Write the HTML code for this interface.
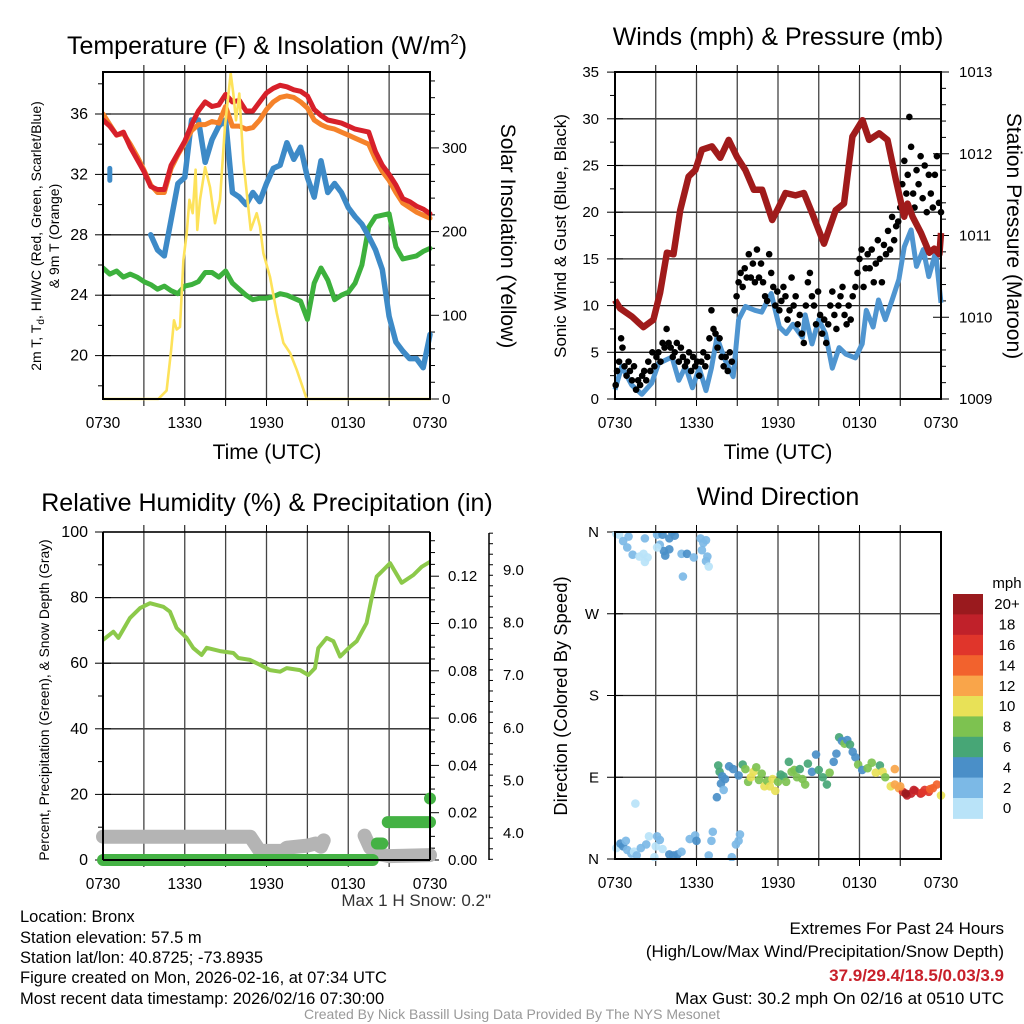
<!DOCTYPE html>
<html><head><meta charset="utf-8"><title>Bronx Mesonet Meteogram</title>
<style>
html,body{margin:0;padding:0;background:#fff;}
svg{display:block;font-family:"Liberation Sans",Arial,sans-serif;}
</style></head>
<body>
<svg id="chart" width="1024" height="1024" viewBox="0 0 1024 1024" xmlns="http://www.w3.org/2000/svg">
<rect width="1024" height="1024" fill="#fff"/>
<g id="g1"></g>
<g id="g2"></g>
<g id="g3"></g>
<g id="g4"></g>

<text x="267" y="54" font-size="25" text-anchor="middle">Temperature (F) &amp; Insolation (W/m<tspan dy="-10" font-size="15">2</tspan><tspan dy="10">)</tspan></text>
<text x="778" y="45" font-size="25" text-anchor="middle">Winds (mph) &amp; Pressure (mb)</text>
<text x="267" y="511" font-size="25" text-anchor="middle">Relative Humidity (%) &amp; Precipitation (in)</text>
<text x="778" y="505" font-size="25" text-anchor="middle">Wind Direction</text>

<text x="267" y="459" font-size="21" text-anchor="middle">Time (UTC)</text>
<text x="778" y="459" font-size="21" text-anchor="middle">Time (UTC)</text>

<text transform="translate(41,236) rotate(-90)" font-size="14" text-anchor="middle">2m T, T<tspan dy="3" font-size="10">d</tspan><tspan dy="-3">, HI/WC (Red, Green, Scarlet/Blue)</tspan></text>
<text transform="translate(59,236) rotate(-90)" font-size="14" text-anchor="middle">&amp; 9m T (Orange)</text>
<text transform="translate(501,236) rotate(90)" font-size="21" text-anchor="middle">Solar Insolation (Yellow)</text>
<text transform="translate(566,236) rotate(-90)" font-size="17" text-anchor="middle">Sonic Wind &amp; Gust (Blue, Black)</text>
<text transform="translate(1007,236) rotate(90)" font-size="21" text-anchor="middle">Station Pressure (Maroon)</text>
<text transform="translate(49,700) rotate(-90)" font-size="13.8" text-anchor="middle">Percent, Precipitation (Green), &amp; Snow Depth (Gray)</text>
<text transform="translate(567,696) rotate(-90)" font-size="18.4" text-anchor="middle">Direction (Colored By Speed)</text>

<text x="491" y="906" font-size="17" text-anchor="end" fill="#333">Max 1 H Snow: 0.2"</text>
<g font-size="16.5">
<text x="20" y="922">Location: Bronx</text>
<text x="20" y="943">Station elevation: 57.5 m</text>
<text x="20" y="963">Station lat/lon: 40.8725; -73.8935</text>
<text x="20" y="983">Figure created on Mon, 2026-02-16, at 07:34 UTC</text>
<text x="20" y="1004">Most recent data timestamp: 2026/02/16 07:30:00</text>
</g>
<g font-size="17" text-anchor="end">
<text x="1004" y="934">Extremes For Past 24 Hours</text>
<text x="1004" y="957">(High/Low/Max Wind/Precipitation/Snow Depth)</text>
<text x="1004" y="981" fill="#c8202a" font-weight="bold">37.9/29.4/18.5/0.03/3.9</text>
<text x="1004" y="1004">Max Gust: 30.2 mph On 02/16 at 0510 UTC</text>
</g>
<text x="512" y="1019" font-size="14" text-anchor="middle" fill="#999">Created By Nick Bassill Using Data Provided By The NYS Mesonet</text>
</svg>
<script>
// ---------- data ----------
const timeLabels = ["0730","1330","1930","0130","0730"];
const temp2m = [35.6,35.2,34.6,34.8,33.8,33.0,32.2,31.2,31.0,31.0,32.6,33.4,34.2,35.3,36.2,36.8,36.5,36.6,37.3,36.8,36.9,36.2,36.2,36.8,37.4,37.7,37.9,37.8,37.6,37.5,37.2,36.3,35.9,35.6,35.5,35.4,35.2,35.0,34.9,34.8,33.5,32.6,32.0,31.3,30.4,30.2,29.9,29.7,29.4];
const temp9m = [36.0,35.3,34.6,34.7,34.0,33.2,32.3,31.3,30.8,30.8,32.4,33.3,34.1,34.9,35.3,35.3,35.5,35.4,36.5,35.2,35.2,35.0,35.1,35.6,36.3,36.8,37.1,37.2,37.1,36.8,36.4,35.6,35.3,35.1,35.0,34.8,34.6,34.4,34.2,34.0,33.0,32.2,31.6,30.8,30.1,29.8,29.5,29.3,29.1];
const windChill = [null,32.0,null,null,null,null,null,28.0,27.0,26.6,29.0,31.4,31.8,35.6,35.6,32.8,34.3,35.2,35.6,30.8,30.5,30.0,30.8,30.2,31.4,32.4,32.6,34.1,33.0,33.8,31.8,30.5,32.9,30.8,31.4,30.8,29.8,29.2,28.7,27.9,27.0,25.7,22.6,20.9,20.3,19.8,19.8,19.2,21.4];
const dewPoint = [25.8,25.4,25.6,25.2,25.4,25.2,24.9,24.7,24.4,24.6,24.3,24.1,24.6,24.7,24.9,25.5,25.5,25.2,25.6,24.8,24.4,24.0,23.7,23.8,23.8,23.9,24.1,24.0,23.8,23.6,22.4,24.8,25.8,25.0,23.7,24.0,24.2,24.8,26.0,28.5,29.2,29.3,29.4,27.2,26.4,26.5,26.6,26.9,27.1];
const solarHours = [0,4.06,4.67,5.0,5.21,5.41,5.65,5.9,6.14,6.34,6.58,6.8,6.92,7.12,7.49,7.85,8.22,8.59,8.95,9.37,9.56,9.76,10.0,10.3,10.84,11.28,11.52,11.77,12.26,12.75,13.24,13.73,14.22,14.95,24];
const solarVals = [0,0,10,58,94,83,86,166,198,238,222,274,202,238,277,253,210,238,325,389,365,333,365,285,202,222,206,174,146,103,67,55,35,0,0];

const presHours = [0,0.37,1.23,2.09,2.83,3.32,3.82,4.31,4.8,5.42,5.91,6.4,7.14,7.75,8.37,8.98,9.6,10.22,10.83,11.57,12.06,12.55,13.29,13.91,14.52,15.39,16.25,16.86,17.48,18.22,18.71,19.45,20.06,20.68,21.29,21.54,21.91,22.53,23.14,23.51,23.88,24];
const presVals = [1010.21,1010.11,1010.01,1009.88,1009.97,1010.3,1010.79,1010.77,1011.31,1011.72,1011.8,1012.05,1012.09,1011.95,1012.17,1011.96,1011.8,1011.56,1011.56,1011.19,1011.35,1011.52,1011.49,1011.52,1011.27,1010.9,1011.31,1011.39,1012.21,1012.41,1012.17,1012.25,1012.17,1011.68,1011.23,1011.39,1011.23,1011.03,1010.79,1010.84,1010.77,1011.03];
const windHours = [0,0.5,1.23,1.97,2.7,3.2,4.2,4.7,5.2,5.7,6.2,6.7,7.1,7.5,8.1,8.7,9.1,9.6,10.3,10.8,11.5,12.1,12.6,13.1,13.8,14.0,14.5,15.0,15.5,16.0,16.5,17.0,17.7,18.2,18.5,19.0,19.4,19.9,20.4,20.9,21.3,21.8,22.2,22.7,23.1,23.6,24];
const windVals = [1,3.5,1.5,0.5,1.7,3.8,4.5,2,3.5,1.2,3.3,0.9,3.3,6.6,4.2,2.4,8.5,9.9,9.5,9.3,11.3,7.7,7,8,6.6,9,5.9,8.5,7,3.3,5.5,4.8,4.4,5.9,9.5,7.7,10.6,8.5,10.6,12.8,16.3,18.1,14.2,16,13.1,15.7,10.3];
const gustHours = [0.05,0.15,0.3,0.45,0.55,0.7,0.85,1.0,1.1,1.25,1.4,1.55,1.7,1.85,2.0,2.15,2.3,2.45,2.6,2.75,2.9,3.05,3.2,3.35,3.5,3.65,3.8,3.95,4.1,4.25,4.4,4.55,4.7,4.85,5.0,5.15,5.3,5.45,5.6,5.75,5.9,6.05,6.2,6.35,6.5,6.65,6.8,6.95,7.1,7.25,7.4,7.55,7.7,7.85,8.0,8.15,8.3,8.45,8.6,8.8,8.95,9.1,9.25,9.4,9.55,9.7,9.85,10.0,10.15,10.3,10.45,10.6,10.75,10.9,11.05,11.2,11.35,11.5,11.65,11.8,11.95,12.1,12.25,12.4,12.55,12.7,12.85,13.0,13.15,13.3,13.45,13.6,13.75,13.9,14.05,14.2,14.35,14.5,14.65,14.8,14.95,15.1,15.25,15.4,15.55,15.7,15.85,16.0,16.15,16.3,16.45,16.6,16.75,16.9,17.05,17.2,17.35,17.5,17.7,17.85,18.0,18.15,18.3,18.45,18.6,18.75,18.9,19.05,19.2,19.35,19.5,19.65,19.8,19.95,20.1,20.25,20.4,20.55,20.7,20.85,21.0,21.15,21.3,21.45,21.55,21.67,21.8,21.95,22.05,22.2,22.35,22.5,22.65,22.8,22.95,23.1,23.25,23.4,23.55,23.7,23.85,24.0];
const gustVals = [1.5,3,4,6.5,5.5,3.5,2.5,4,3,2,3.5,1,2,1.5,2.5,3,2,4,3,5,3.5,4.5,5,4,6,5.5,7.5,6,5.5,4.5,5,6,4,5.5,4.5,3.5,4,5,3,4.5,3.5,4,2.5,4,5,3.5,4.5,6.5,9.5,7.5,7,5.5,6.5,4.5,3.5,4.5,3,5,4,9.5,11,12.5,13.5,12,14,13,15.5,13,14.5,12.5,16,13,14.5,12.5,11,10.5,15.5,13.5,12,10,11.5,9.5,10.5,12,11,8.5,9.5,13,10,11,8,9,7,6,10,12.5,13.5,11,10,8,11.5,9,7,8.5,6,8,10,11.5,9,7.5,10,11,12,9,8,10,8.5,11,12,13.5,15,16,12,14,15.5,14,16,12.5,14.5,17,15,12.5,16.5,15.5,18,16,19.5,17,18.5,19,20.5,23,25.5,22,24,30.2,27,22,20.5,24.5,23,26,21.5,25,20,24,22,20.5,24,26,21,20];

const rhHours = [0,0.76,1.13,1.98,2.72,3.45,4.43,4.92,5.41,6.14,6.63,7.24,7.61,8.59,9.57,9.93,10.79,11.52,12.26,12.99,13.48,14.46,15.07,15.56,15.8,16.42,16.91,17.4,18.13,18.62,19.35,19.72,20.09,21.07,21.92,22.78,23.39,24];
const rhVals = [67.1,69.6,67.7,73.8,76.8,78.3,77.2,75.7,70.7,67.7,64.6,62.5,64.7,63.7,63.1,61.6,61,59.5,57.9,57.4,58.5,57.9,56.4,58.5,64.6,67.7,66.7,62,65,66.7,72.3,79.9,86.4,90.5,84.5,86.9,89.4,90.9];
const precipStartHours = [0,20.1,20.9,24];
const precipEndHours = [19.8,20.5,24,24];
const precipVals = [0.00,0.007,0.016,0.026];
const snowHours = [0,10.8,11.5,13.2,13.5,15.0,15.6,16.0,16.2,16.5,19.2,19.6,20.2,21.0,24];
const snowVals = [3.93,3.93,3.66,3.66,3.72,3.76,3.8,3.74,3.86,null,3.95,3.72,3.6,3.56,3.58];

const dirHours = [0.1,0.3,0.6,0.9,1.3,1.8,2.1,2.2,2.4,1.0,2.2,3.1,3.3,3.5,3.6,3.7,3.1,4.0,4.2,4.4,4.0,4.9,5.3,5.0,5.8,6.3,6.4,6.7,6.8,6.9,6.5,6.7,
 0.1,0.4,0.6,0.8,0.9,1.2,1.4,1.6,1.9,2.3,2.5,2.9,3.0,3.1,3.3,3.5,4.0,4.3,4.6,4.9,5.5,5.9,6.0,7.1,7.2,8.6,8.9,9.1,9.2,6.9,1.5,
 7.6,7.7,7.9,8.1,7.8,8.0,7.5,8.4,8.7,9.1,9.4,9.6,9.8,10.0,10.2,10.4,10.6,10.8,11.0,11.2,11.4,11.6,11.8,12.0,12.2,12.4,12.6,12.8,13.0,13.2,13.4,13.6,13.8,14.0,14.2,14.5,14.8,15.0,15.3,15.6,15.8,16.1,16.3,16.5,16.7,16.9,17.1,17.3,17.5,17.7,17.9,18.2,18.6,18.9,19.2,19.5,19.7,19.9,20.3,20.6,20.9,21.2,21.5,21.8,22.1,22.5,22.8,23.1,23.4,23.7,24.0,20.6,21.0,21.4,22.0,22.6,23.2];
const dirDeg = [358,357,350,343,335,333,336,327,332,355,353,357,346,357,339,334,343,353,360,356,341,336,336,311,332,353,340,328,333,322,348,351,
 12,17,14,20,10,6,8,4,12,16,25,2,14,25,21,11,5,4,5,8,22,26,20,20,30,2,16,20,27,4,61,
 103,96,91,88,83,76,68,102,99,92,104,99,85,90,96,101,87,94,80,86,80,88,75,85,93,91,85,107,96,98,90,99,88,82,105,96,115,98,90,82,95,107,116,134,130,127,131,126,118,112,104,98,100,106,95,103,96,90,80,82,78,74,70,72,75,72,76,74,78,82,70,99,80,72,76,73,77];
const dirSpeed = [1,1,3,3,3,1,1,0,1,2,2,3,2,4,4,5,1,5,5,5,4,3,5,3,3,3,3,3,3,1,3,3,
 1,4,4,3,3,3,1,3,2,2,1,1,1,3,3,1,4,4,4,3,3,3,4,3,3,3,2,3,3,2,1,
 6,6,4,4,4,3,4,4,4,4,6,8,8,10,10,8,8,8,10,8,10,10,10,8,6,6,8,6,8,8,8,6,8,8,6,4,4,6,6,6,8,4,4,6,4,8,4,6,4,4,8,4,8,8,10,6,10,8,10,12,12,16,18,18,16,18,16,16,14,14,10,12,12,20,18,17,15];
const speedBinLabels = ["20+","18","16","14","12","10","8","6","4","2","0"];
const speedBinColors = ["#9a1a1e","#c0212a","#e0352b","#f2622d","#f9a54a","#e8e157","#7dc250","#47a676","#4a8fc8","#7cb9e6","#b9e3f8"];

// ---------- helpers ----------
const NS="http://www.w3.org/2000/svg";
function mk(parent,tag,attrs){const e=document.createElementNS(NS,tag);for(const k in attrs)e.setAttribute(k,attrs[k]);parent.appendChild(e);return e;}
function txt(parent,x,y,s,size,anchor){const t=mk(parent,"text",{x:x,y:y,"font-size":size,"text-anchor":anchor});t.textContent=s;return t;}
function pathFrom(xs,ys,fx,fy){let d="",pen=false;for(let i=0;i<xs.length;i++){if(ys[i]===null||ys[i]===undefined){pen=false;continue;}d+=(pen?"L":"M")+fx(xs[i]).toFixed(1)+","+fy(ys[i]).toFixed(1);pen=true;}return d;}
const halfHours=temp2m.map((_,i)=>i*0.5);

function frame(g,L,R,T,B,name){
  for(let h=3;h<24;h+=3){const x=L+h/24*(R-L);
    const gl=mk(g,"line",{x1:x,x2:x,y1:T,y2:B,stroke:"#444","stroke-width":1.3});
    
    
    const t1=mk(g,"line",{x1:x,x2:x,y1:T-7,y2:T,stroke:"#000","stroke-width":1});
    
    
    const t2=mk(g,"line",{x1:x,x2:x,y1:B,y2:B+7,stroke:"#000","stroke-width":1});
    
    
  }
  for(let i=0;i<timeLabels.length;i++){const x=L+i*6/24*(R-L);
    const t=txt(g,x,B+29,timeLabels[i],15.5,"middle");
    
    
  }
}
function hgrid(g,L,R,y){const l=mk(g,"line",{x1:L,x2:R,y1:y,y2:y,stroke:"#222","stroke-width":1.3});
  
  }
function ytick(g,x,y,len,name){const l=mk(g,"line",{x1:x,x2:x+len,y1:y,y2:y,stroke:"#000","stroke-width":1});
  
  }
function border(g,L,R,T,B){const r=mk(g,"rect",{x:L,y:T,width:R-L,height:B-T,fill:"none",stroke:"#000","stroke-width":2});
  
  }

// ---------- panel 1 ----------
(function(){
 const g=document.getElementById("g1");const L=103,R=430,T=72,B=399;
 const X=h=>L+h/24*(R-L), YT=t=>114+(36-t)*15.1, YI=v=>399-v*0.837;
 for(let v=20;v<=36;v+=4){hgrid(g,L,R,YT(v));ytick(g,L-8,YT(v),16,'y-tick');
   const t=txt(g,L-15,YT(v)+5,String(v),16,"end");
   
   }
 for(let v=18;v<=38;v+=4)ytick(g,L-5,YT(v),5,'y-minor-tick');
 for(let v=0;v<=380;v+=20){ytick(g,R,YI(v),v%100===0?9:5,'insolation-tick');}
 for(let v=0;v<=300;v+=100){const t=txt(g,R+12,YI(v)+5,String(v),15,"start");
   
   }
 frame(g,L,R,T,B);
 const cl=mk(g,"clipPath",{id:"c1"});mk(cl,"rect",{x:L,y:T-8,width:R-L+4,height:B-T+12});
 const pg=mk(g,"g",{"clip-path":"url(#c1)"});
 const series=[[halfHours,dewPoint,YT,"#3db13d",5,'dewpoint-line'],[halfHours,windChill,YT,"#3d8ac7",5.5,'wind-chill-line'],[halfHours,temp9m,YT,"#f5822a",5,'temp-9m-line'],[halfHours,temp2m,YT,"#d7202a",5,'temp-2m-line'],[solarHours,solarVals,YI,"#fde25a",2.6,'insolation-line']];
 for(const s of series){const p=mk(pg,"path",{d:pathFrom(s[0],s[1],X,s[2]),fill:"none",stroke:s[3],"stroke-width":s[4],"stroke-linejoin":"round","stroke-linecap":"round"});
   
   }
 for(let i=0;i<windChill.length;i++){if(windChill[i]!==null&&(i===0||windChill[i-1]===null)&&(i===windChill.length-1||windChill[i+1]===null)){
   const e=mk(pg,"line",{x1:X(halfHours[i]),x2:X(halfHours[i]),y1:YT(windChill[i])-6,y2:YT(windChill[i])+6,stroke:"#3d8ac7","stroke-width":5,"stroke-linecap":"round"});
   
   }}
 border(g,L,R,T,B);
})();

// ---------- panel 2 ----------
(function(){
 const g=document.getElementById("g2");const L=615,R=941,T=72,B=399;
 const X=h=>L+h/24*(R-L), YW=m=>399-m*9.34, YP=p=>399-(p-1009)*81.75;
 for(let v=0;v<=35;v+=5){hgrid(g,L,R,YW(v));ytick(g,L-8,YW(v),16,'y-tick');
   const t=txt(g,L-16,YW(v)+5,String(v),15,"end");
   
   }
 for(let v=2.5;v<35;v+=5)ytick(g,L-5,YW(v),5,'y-minor-tick');
 for(let k=0;k<=20;k++){ytick(g,R-(k%5===0?8:0),YP(1009+k*0.2),k%5===0?16:5,'pressure-tick');}
 for(let p=1009;p<=1013;p++){const t=txt(g,R+18,YP(p)+5,String(p),15,"start");
   
   }
 frame(g,L,R,T,B);
 const cl=mk(g,"clipPath",{id:"c2"});mk(cl,"rect",{x:L-4,y:T,width:R-L+8,height:B-T+4});
 const pg=mk(g,"g",{"clip-path":"url(#c2)"});
 const wl=mk(pg,"path",{d:pathFrom(windHours,windVals,X,YW),fill:"none",stroke:"#4f95d0","stroke-width":5,"stroke-linejoin":"round"});
 
 
 for(let i=0;i<gustHours.length;i++){const c=mk(pg,"circle",{cx:X(gustHours[i]),cy:YW(gustVals[i]),r:3.3,fill:"#000"});
   
   }
 const pl=mk(pg,"path",{d:pathFrom(presHours,presVals,X,YP),fill:"none",stroke:"#a01b1b","stroke-width":6.5,"stroke-linejoin":"round"});
 
 
 border(g,L,R,T,B);
})();

// ---------- panel 3 ----------
(function(){
 const g=document.getElementById("g3");const L=103,R=430,T=532,B=860;
 const X=h=>L+h/24*(R-L), YR=r=>860-r*3.28, YPr=v=>860-v*2365, YS=s=>833-(s-4)*52.6;
 for(let v=0;v<=100;v+=20){hgrid(g,L,R,YR(v));ytick(g,L-8,YR(v),16,'y-tick');
   const t=txt(g,L-15,YR(v)+5,String(v),16,"end");
   
   }
 for(let v=10;v<100;v+=20)ytick(g,L-5,YR(v),5,'y-minor-tick');
 for(let k=0;k<=27;k++){const v=k*0.005;ytick(g,R,YPr(v),k%4===0?9:5,'precip-tick');}
 for(let k=0;k<=6;k++){const t=txt(g,R+18,YPr(k*0.02)+5,(k*0.02).toFixed(2),15,"start");
   
   }
 const sp=mk(g,"line",{x1:489,x2:489,y1:533,y2:860,stroke:"#000","stroke-width":1.5});
 
 
 for(let k=0;k<=31;k++){const s=3.5+k*0.2;if(YS(s)<533)break;ytick(g,489,YS(s),Math.abs(s-Math.round(s))<0.01?8:4,'snow-tick');}
 for(let s=4;s<=9;s++){const t=txt(g,503,YS(s)+5,s.toFixed(1),15,"start");
   
   }
 frame(g,L,R,T,B);
 const sl=mk(g,"path",{d:pathFrom(snowHours,snowVals,X,YS),fill:"none",stroke:"#b4b4b4","stroke-width":14,"stroke-linejoin":"round","stroke-linecap":"round"});
 
 
 for(let i=0;i<precipVals.length;i++){const p=mk(g,"line",{x1:X(precipStartHours[i]),x2:X(precipEndHours[i]),y1:YPr(precipVals[i]),y2:YPr(precipVals[i]),stroke:"#44b244","stroke-width":12,"stroke-linecap":"round"});
   
   }
 const rl=mk(g,"path",{d:pathFrom(rhHours,rhVals,X,YR),fill:"none",stroke:"#8cc94a","stroke-width":4,"stroke-linejoin":"round"});
 
 
 const ax=mk(g,"line",{x1:L,x2:L,y1:T,y2:B,stroke:"#000","stroke-width":2});
 
 
 const bx=mk(g,"line",{x1:L,x2:R,y1:B,y2:B,stroke:"#000","stroke-width":2});
 
 
 const rx=mk(g,"line",{x1:R,x2:R,y1:T,y2:B,stroke:"#000","stroke-width":2});
 
 
 const tx=mk(g,"line",{x1:L,x2:R,y1:T,y2:T,stroke:"#000","stroke-width":1.5});
 
 
})();

// ---------- panel 4 ----------
(function(){
 const g=document.getElementById("g4");const L=615,R=941,T=532,B=859;
 const X=h=>L+h/24*(R-L), YD=d=>859-d*0.9083;
 const dirLabels=["N","E","S","W","N"];
 for(let k=0;k<=4;k++){const y=YD(k*90);hgrid(g,L,R,y);ytick(g,L-8,y,16,'y-tick');
   const t=txt(g,L-16,y+5,dirLabels[k],15,"end");
   
   }
 frame(g,L,R,T,B);
 const cl=mk(g,"clipPath",{id:"c4"});mk(cl,"rect",{x:L-8,y:T,width:R-L+16,height:B-T+2});
 const pg=mk(g,"g",{"clip-path":"url(#c4)"});
 for(let i=0;i<dirHours.length;i++){const bin=Math.min(10,Math.floor(dirSpeed[i]/2));
   const c=mk(pg,"circle",{cx:X(dirHours[i]),cy:YD(dirDeg[i]),r:4.3,fill:speedBinColors[10-bin],"fill-opacity":0.92});
   
   }
 border(g,L,R,T,B);
 const t0=txt(g,1007,588,"mph",15,"middle");
 
 
 const h=20.4;
 for(let i=0;i<speedBinLabels.length;i++){
   const r=mk(g,"rect",{x:953,y:594+i*h,width:30,height:h+0.5,fill:speedBinColors[i]});
   
   
   const t=txt(g,1007,594+i*h+h/2+5,speedBinLabels[i],15,"middle");
   
   
 }
})();
</script>
</body></html>
